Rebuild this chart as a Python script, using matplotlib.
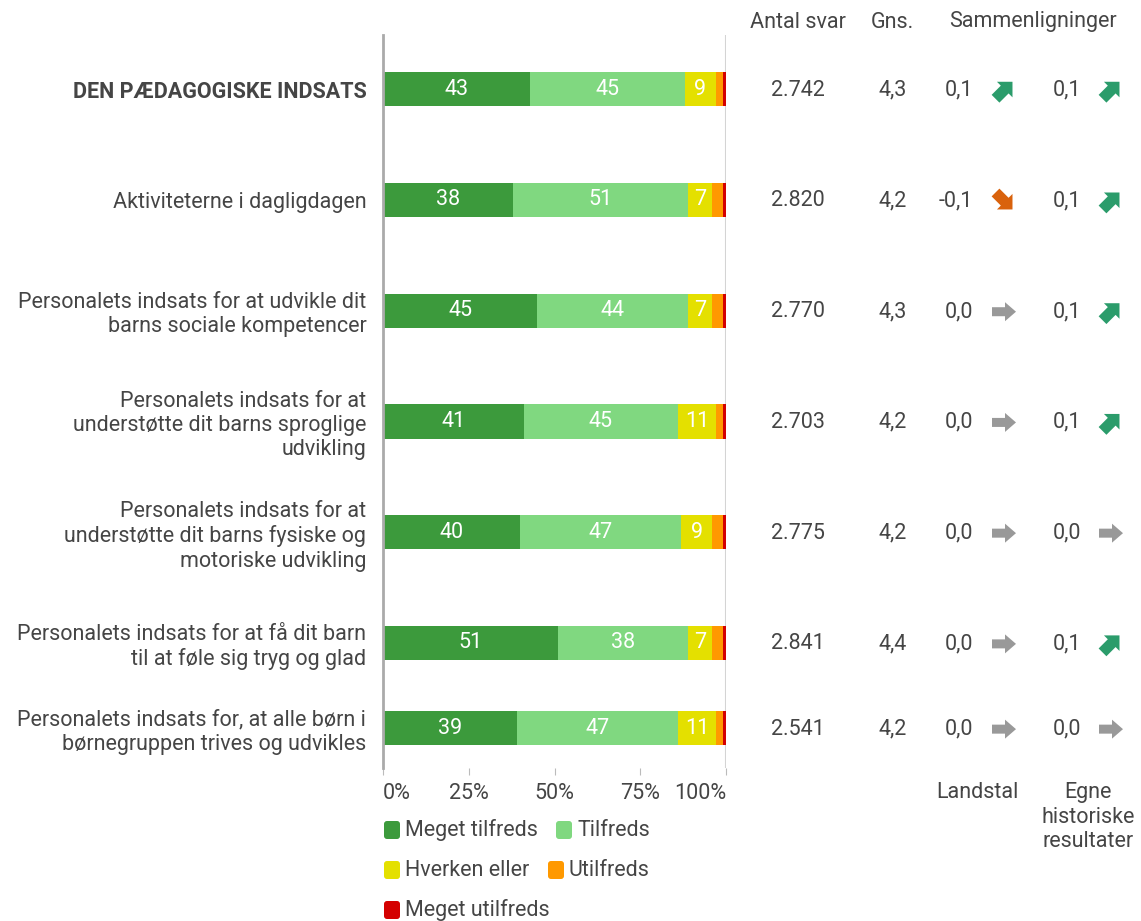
import numpy as np
import matplotlib
matplotlib.use("Agg")
import matplotlib.pyplot as plt
from matplotlib.patches import Polygon, FancyBboxPatch

plt.rcParams['font.family'] = ['Roboto', 'DejaVu Sans']

# Data
labels = [
    "DEN PÆDAGOGISKE INDSATS",
    "Aktiviteterne i dagligdagen",
    "Personalets indsats for at udvikle dit\nbarns sociale kompetencer",
    "Personalets indsats for at\nunderstøtte dit barns sproglige\nudvikling",
    "Personalets indsats for at\nunderstøtte dit barns fysiske og\nmotoriske udvikling",
    "Personalets indsats for at få dit barn\ntil at føle sig tryg og glad",
    "Personalets indsats for, at alle børn i\nbørnegruppen trives og udvikles",
]
meget_tilfreds = [43, 38, 45, 41, 40, 51, 39]
tilfreds = [45, 51, 44, 45, 47, 38, 47]
hverken = [9, 7, 7, 11, 9, 7, 11]
utilfreds = [2, 3, 3, 2, 3, 3, 2]
meget_utilfreds = [1, 1, 1, 1, 1, 1, 1]
antal_svar = [2742, 2820, 2770, 2703, 2775, 2841, 2541]
gns = [4.3, 4.2, 4.3, 4.2, 4.2, 4.4, 4.2]
landstal = [0.1, -0.1, 0.0, 0.0, 0.0, 0.0, 0.0]
egne = [0.1, 0.1, 0.1, 0.1, 0.0, 0.1, 0.0]

series_names = ["Meget tilfreds", "Tilfreds", "Hverken eller", "Utilfreds", "Meget utilfreds"]
series_colors = ["#3c9a3c", "#80d880", "#e4e000", "#ff9900", "#d40000"]
series = [meget_tilfreds, tilfreds, hverken, utilfreds, meget_utilfreds]

# row layout (last row sits closer, like the original)
row_pos = [0, 1, 2, 3, 4, 5, 5.77]

txt = "#454545"
FS = 15.5
W, H = 1141, 921
fig = plt.figure(figsize=(W / 100, H / 100), dpi=100)

# overlay in pixel coordinates for the table part
ov = fig.add_axes([0, 0, 1, 1])
ov.set_xlim(0, W)
ov.set_ylim(H, 0)
ov.axis("off")

ax = fig.add_axes([383 / W, (H - 768) / H, 343 / W, (768 - 35) / H])
ax.set_xlim(0, 100)
ax.set_ylim(6.13, -0.49)

left = np.zeros(len(labels))
for vals, name, col in zip(series, series_names, series_colors):
    vals = np.array(vals, dtype=float)
    ax.barh(row_pos, vals, left=left, height=0.31, color=col, label=name, zorder=2)
    for y, l, v in zip(row_pos, left, vals):
        if v >= 5:
            ax.text(l + v / 2, y, f"{int(v)}", ha="center", va="center",
                    color="white", fontsize=FS, zorder=3)
    left += vals

ax.set_yticks(row_pos)
ax.set_yticklabels(labels, fontsize=FS, color=txt, linespacing=1.2)
ax.get_yticklabels()[0].set_fontweight("bold")
ax.tick_params(axis="y", length=0, pad=12)
ax.set_xticks([0, 25, 50, 75, 100])
ax.set_xticklabels(["0%", "25%", "50%", "75%", "100%"], fontsize=FS, color=txt)
ax.get_xticklabels()[0].set_ha("left")
ax.get_xticklabels()[-1].set_ha("right")
ax.tick_params(axis="x", length=5, color="#bbbbbb", pad=6)
for s in ["top", "right", "bottom"]:
    ax.spines[s].set_visible(False)
ax.spines["left"].set_color("#aaaaaa")
ax.spines["left"].set_linewidth(2)
ax.axvline(100, color="#d4d4d4", lw=1.5, zorder=1)
ax.patch.set_alpha(0)


def row_pix(y):
    p = ax.transData.transform((0, y))
    return ov.transData.inverted().transform(p)[1]


def fmt_dec(v):
    s = f"{v:.1f}".replace(".", ",")
    return "0,0" if s == "-0,0" else s


def draw_arrow(cx, cy, v):
    if v > 0:
        ang, col = 45, "#2b9c6b"
    elif v < 0:
        ang, col = -45, "#d9620c"
    else:
        ang, col = 0, "#999999"
    if ang == 0:
        L, sw, hw, hl = 24, 4.5, 9.5, 11
    else:
        L, sw, hw, hl = 24, 5.5, 11, 11
    pts = np.array([[-L / 2, -sw], [L / 2 - hl, -sw], [L / 2 - hl, -hw], [L / 2, 0],
                    [L / 2 - hl, hw], [L / 2 - hl, sw], [-L / 2, sw]])
    a = np.deg2rad(ang)
    rot = np.array([[np.cos(a), -np.sin(a)], [np.sin(a), np.cos(a)]])
    pts = pts @ rot.T
    pts[:, 1] = -pts[:, 1]  # pixel y goes down
    pts += [cx, cy]
    ov.add_patch(Polygon(pts, closed=True, color=col, lw=0))


# header
ov.text(798, 22, "Antal svar", ha="center", va="center", fontsize=FS, color=txt)
ov.text(892, 22, "Gns.", ha="center", va="center", fontsize=FS, color=txt)
ov.text(1033, 22, "Sammenligninger", ha="center", va="center", fontsize=FS, color=txt)

for i, y in enumerate(row_pos):
    py = row_pix(y) + 1
    ov.text(798, py, f"{antal_svar[i]:,}".replace(",", "."), ha="center", va="center",
            fontsize=FS, color=txt)
    ov.text(893, py, fmt_dec(gns[i]), ha="center", va="center", fontsize=FS, color=txt)
    ov.text(973, py, fmt_dec(landstal[i]), ha="right", va="center", fontsize=FS, color=txt)
    draw_arrow(1004, py, landstal[i])
    ov.text(1081, py, fmt_dec(egne[i]), ha="right", va="center", fontsize=FS, color=txt)
    draw_arrow(1111, py, egne[i])

ov.text(977, 792, "Landstal", ha="center", va="center", fontsize=FS, color=txt)
ov.text(1088, 817, "Egne\nhistoriske\nresultater", ha="center", va="center",
        fontsize=FS, color=txt, linespacing=1.2)

# legend (flowing layout)
legend_items = [(383, 830, 0), (555, 830, 1), (383, 870, 2), (547, 870, 3), (383, 910, 4)]
for x, y, k in legend_items:
    ov.add_patch(FancyBboxPatch((x + 1, y - 9), 16, 18, boxstyle="round,pad=0,rounding_size=3",
                                color=series_colors[k], lw=0))
    ov.text(x + 22, y, series_names[k], ha="left", va="center", fontsize=FS, color=txt)

fig.savefig("out.png", dpi=100)
